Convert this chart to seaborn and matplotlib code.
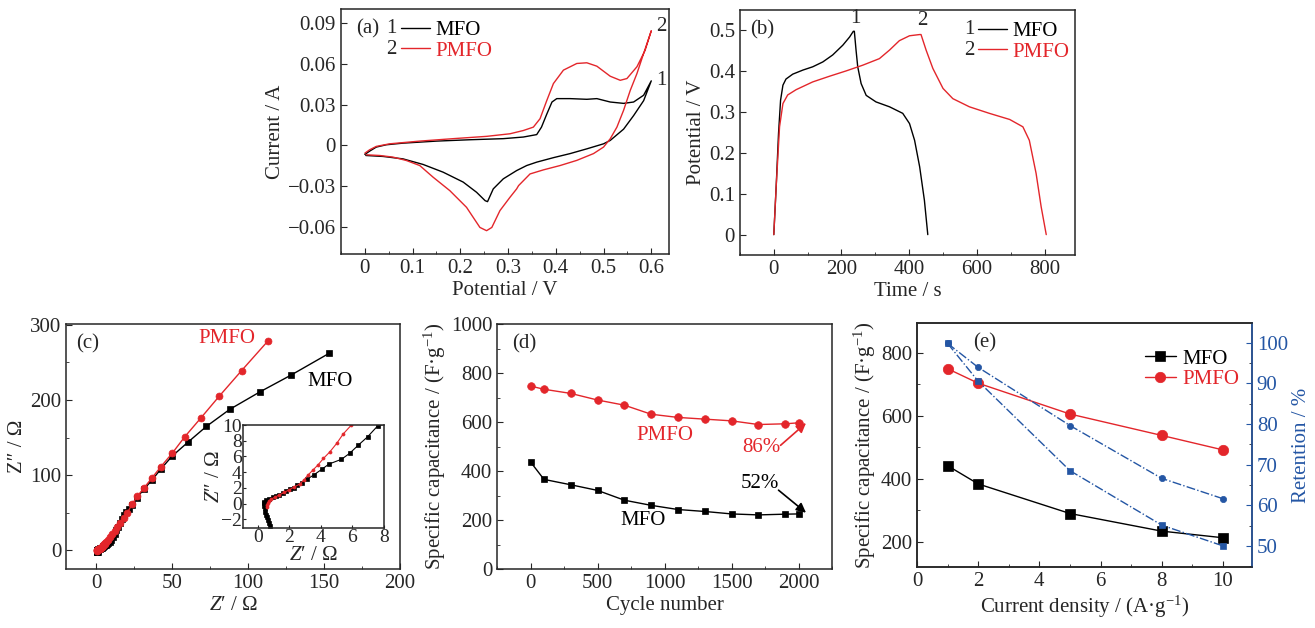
import numpy as np
import pandas as pd
import matplotlib
matplotlib.use("Agg")
import matplotlib.pyplot as plt
from matplotlib.ticker import MultipleLocator
import seaborn as sns

# colores
NEGRO = "#000000"
ROJO = "#e3262b"
AZUL = "#2456a4"

# ---------- (a) voltametria ciclica ----------
cv_mfo_v = [0.0, 0.01, 0.024, 0.045, 0.08, 0.15, 0.22, 0.29, 0.332, 0.36, 0.37, 0.381, 0.392, 0.402,
            0.43, 0.465, 0.486, 0.514, 0.542, 0.563, 0.584, 0.6,
            0.584, 0.563, 0.542, 0.514, 0.5, 0.465, 0.43, 0.395, 0.36, 0.339, 0.318, 0.29, 0.269,
            0.257, 0.252, 0.234, 0.206, 0.164, 0.122, 0.08, 0.038, 0.002]
cv_mfo_i = [-0.0066, -0.0042, -0.0012, 0.0005, 0.0017, 0.0032, 0.0042, 0.005, 0.0062, 0.008, 0.0135,
            0.023, 0.032, 0.0345, 0.0345, 0.034, 0.0345, 0.032, 0.031, 0.032, 0.037, 0.0476,
            0.033, 0.022, 0.012, 0.0037, 0.0012, -0.0025, -0.006, -0.009, -0.0123, -0.0148, -0.0185,
            -0.0246, -0.032, -0.0414, -0.0407, -0.0345, -0.027, -0.0197, -0.014, -0.0099, -0.0081, -0.0074]
cv_pmfo_v = [0.0, 0.01, 0.024, 0.052, 0.115, 0.185, 0.255, 0.304, 0.332, 0.353, 0.367, 0.381, 0.395,
             0.416, 0.444, 0.465, 0.486, 0.514, 0.535, 0.549, 0.57, 0.587, 0.6,
             0.584, 0.57, 0.556, 0.542, 0.528, 0.514, 0.5, 0.479, 0.444, 0.409, 0.374, 0.346, 0.322,
             0.318, 0.304, 0.283, 0.266, 0.255, 0.241, 0.227, 0.213, 0.178, 0.143, 0.115, 0.087,
             0.059, 0.031, 0.003]
cv_pmfo_i = [-0.0057, -0.0032, -0.0007, 0.0012, 0.0032, 0.005, 0.0067, 0.0086, 0.011, 0.0135, 0.0197,
             0.033, 0.0456, 0.0555, 0.0604, 0.0609, 0.0584, 0.051, 0.048, 0.0493, 0.058, 0.07, 0.0845,
             0.0678, 0.053, 0.0406, 0.0259, 0.0135, 0.0049, -0.0012, -0.006, -0.011, -0.0148, -0.018,
             -0.021, -0.0296, -0.032, -0.0382, -0.048, -0.0604, -0.0628, -0.0604, -0.053, -0.0456,
             -0.0333, -0.0234, -0.0148, -0.0111, -0.0086, -0.0074, -0.0069]
a_xticks = [0, 0.1, 0.2, 0.3, 0.4, 0.5, 0.6]
a_xlabels = ["0", "0.1", "0.2", "0.3", "0.4", "0.5", "0.6"]
a_yticks = [-0.06, -0.03, 0, 0.03, 0.06, 0.09]
a_ylabels = ["\u22120.06", "\u22120.03", "0", "0.03", "0.06", "0.09"]

# ---------- (b) carga-descarga ----------
gcd_mfo_t = [0, 7, 14, 20, 27, 36, 56, 86, 115, 145, 174, 204, 224, 235, 238, 243, 248, 258, 273,
             302, 342, 381, 401, 416, 431, 445, 455]
gcd_mfo_v = [0, 0.117, 0.248, 0.329, 0.366, 0.381, 0.393, 0.403, 0.411, 0.423, 0.44, 0.464, 0.484,
             0.498, 0.498, 0.452, 0.411, 0.37, 0.341, 0.325, 0.313, 0.297, 0.272, 0.231, 0.166, 0.084, 0.0]
gcd_pmfo_t = [0, 7, 17, 27, 41, 66, 115, 165, 214, 263, 312, 342, 371, 401, 431, 435, 450, 470, 500,
              529, 578, 637, 697, 736, 755, 775, 790, 805]
gcd_pmfo_v = [0, 0.117, 0.264, 0.321, 0.342, 0.355, 0.374, 0.388, 0.401, 0.415, 0.431, 0.452, 0.475,
              0.487, 0.49, 0.49, 0.452, 0.407, 0.358, 0.333, 0.313, 0.297, 0.282, 0.264, 0.231, 0.15,
              0.068, 0.0]

# ---------- (c) impedancia ----------
eis_mfo_re = [0.77, 0.70, 0.62, 0.57, 0.52, 0.47, 0.42, 0.39, 0.37, 0.40, 0.52, 0.7, 0.94, 1.15, 1.35,
              1.56, 1.8, 2.05, 2.27, 2.49, 2.77, 3.12, 3.53, 4.05, 4.51, 5.3, 5.82, 6.38, 6.96, 7.59,
              8.8, 9.9, 11.0, 12.1, 13.2, 14.3, 15.7, 17.1, 18.5, 19.8, 21.5, 23.3, 26.8, 31.2, 36.5,
              42.4, 49.9, 60.4, 72.5, 87.9, 107.9, 128.1, 153.2]
eis_mfo_im = [-2.9, -2.5, -2.08, -1.7, -1.44, -1.0, -0.6, -0.25, 0.04, 0.25, 0.47, 0.62, 0.8, 0.95,
              1.12, 1.31, 1.55, 1.8, 2.05, 2.33, 2.67, 3.1, 3.64, 4.36, 5.04, 5.64, 6.4, 7.46, 8.5, 9.87,
              10.5, 13, 17.5, 22, 26.5, 31, 36.5, 42, 46.5, 51, 55.5, 60, 70, 81, 93,
              108, 125.3, 144, 164.9, 187.6, 211, 233, 262]
eis_pmfo_re = [0.58, 0.60, 0.62, 0.7, 0.83, 1.05, 1.35, 1.65, 1.97, 2.3, 2.66, 2.91, 3.18, 3.49, 3.8,
               4.16, 4.57, 5.0, 5.41, 5.93, 6.6, 7.5, 8.8, 10.5, 12.1, 13.8, 15.8, 18.0, 20.4, 23.5,
               27.0, 31.4, 36.5, 42.4, 49.9, 58.2, 68.8, 80.9, 95.6, 113.2]
eis_pmfo_im = [-0.47, -0.2, 0.04, 0.3, 0.55, 0.8, 1.1, 1.42, 1.74, 2.12, 2.5, 3.0, 3.64, 4.28, 4.9,
               5.76, 6.6, 7.67, 8.86, 10.0, 11.5, 13.5, 17, 21.5, 26, 31, 36.5, 42.5, 50, 61,
               72, 83, 96, 111, 129, 151, 176, 205, 239, 279]

# ---------- (d) ciclos ----------
ciclos = [0, 100, 300, 500, 700, 900, 1100, 1300, 1500, 1700, 1900, 2000]
ciclo_pmfo = [747, 734, 717, 690, 669, 632, 619, 612, 605, 590, 593, 597]
ciclo_mfo = [437, 366, 344, 321, 281, 260, 243, 235, 225, 221, 224, 225]

# ---------- (e) densidad de corriente ----------
densidad = [1, 2, 5, 8, 10]
cap_mfo = [442, 384, 290, 234, 213]
cap_pmfo = [750, 704, 606, 538, 492]
ret_pmfo = [99.8, 93.9, 79.6, 66.6, 61.6]
ret_mfo = [99.8, 90.5, 68.5, 55.1, 50.0]

# ---------------- estilo ----------------
FS = 15
sns.set_style("ticks")
plt.rcParams["font.family"] = ["Liberation Serif", "DejaVu Serif"]
plt.rcParams["mathtext.fontset"] = "custom"
plt.rcParams["mathtext.rm"] = "Liberation Serif"
plt.rcParams["mathtext.it"] = "Liberation Serif:italic"
plt.rcParams["font.size"] = FS
plt.rcParams["axes.linewidth"] = 1.1
plt.rcParams["xtick.direction"] = "in"
plt.rcParams["ytick.direction"] = "in"
plt.rcParams["xtick.major.size"] = 4
plt.rcParams["ytick.major.size"] = 4
plt.rcParams["xtick.minor.size"] = 2.5
plt.rcParams["ytick.minor.size"] = 2.5
plt.rcParams["xtick.labelsize"] = FS
plt.rcParams["ytick.labelsize"] = FS
plt.rcParams["axes.labelsize"] = FS

fig = plt.figure(figsize=(13.15, 6.28), dpi=100)


def linea(ax, x, y, color, **kw):
    sns.lineplot(x=x, y=y, sort=False, estimator=None, color=color, ax=ax, **kw)


def marcas(ax, x, y, color, marker, ms, lw=1.0, **kw):
    sns.lineplot(x=x, y=y, sort=False, estimator=None, color=color, marker=marker,
                 markersize=ms, markeredgecolor=color, markeredgewidth=0.5, lw=lw, ax=ax, **kw)


# (a)
ax_a = fig.add_axes([0.2593, 0.5955, 0.2494, 0.3901])
linea(ax_a, cv_mfo_v, cv_mfo_i, NEGRO, lw=1.0, label="MFO")
linea(ax_a, cv_pmfo_v, cv_pmfo_i, ROJO, lw=1.0, label="PMFO")
ax_a.set_xlim(-0.05, 0.637)
ax_a.set_ylim(-0.08, 0.1005)
ax_a.set_xticks(a_xticks, a_xlabels)
ax_a.set_yticks(a_yticks, a_ylabels)
ax_a.xaxis.set_minor_locator(MultipleLocator(0.05))
ax_a.set_xlabel("Potential / V", labelpad=2)
ax_a.set_ylabel("Current / A", labelpad=2)
ax_a.legend(loc="upper left", bbox_to_anchor=(0.125, 1.03), frameon=False, handlelength=1.4,
            handletextpad=0.25, labelspacing=0.05, labelcolor="linecolor", fontsize=FS)
ax_a.text(0.045, 0.92, "(a)", transform=ax_a.transAxes, va="center")
ax_a.text(0.168, 0.922, "1", transform=ax_a.transAxes, va="center", ha="right")
ax_a.text(0.168, 0.833, "2", transform=ax_a.transAxes, va="center", ha="right")
ax_a.text(0.61, 0.048, "1", ha="left", va="center")
ax_a.text(0.61, 0.088, "2", ha="left", va="center")

# (b)
ax_b = fig.add_axes([0.5627, 0.5939, 0.2548, 0.3901])
linea(ax_b, gcd_mfo_t, gcd_mfo_v, NEGRO, lw=1.0, label="MFO")
linea(ax_b, gcd_pmfo_t, gcd_pmfo_v, ROJO, lw=1.0, label="PMFO")
ax_b.set_xlim(-100, 890)
ax_b.set_ylim(-0.05, 0.55)
ax_b.set_xticks([0, 200, 400, 600, 800])
ax_b.set_yticks([0, 0.1, 0.2, 0.3, 0.4, 0.5], ["0", "0.1", "0.2", "0.3", "0.4", "0.5"])
ax_b.xaxis.set_minor_locator(MultipleLocator(100))
ax_b.set_xlabel("Time / s", labelpad=2)
ax_b.set_ylabel("Potential / V", labelpad=2)
ax_b.legend(loc="upper left", bbox_to_anchor=(0.655, 1.03), frameon=False, handlelength=1.4,
            handletextpad=0.25, labelspacing=0.05, labelcolor="linecolor", fontsize=FS)
ax_b.text(0.03, 0.92, "(b)", transform=ax_b.transAxes, va="center")
ax_b.text(0.70, 0.922, "1", transform=ax_b.transAxes, va="center", ha="right")
ax_b.text(0.70, 0.833, "2", transform=ax_b.transAxes, va="center", ha="right")
ax_b.text(240, 0.505, "1", ha="center", va="bottom")
ax_b.text(440, 0.5, "2", ha="center", va="bottom")

# (c)
ax_c = fig.add_axes([0.0502, 0.0939, 0.254, 0.390])
marcas(ax_c, eis_mfo_re, eis_mfo_im, NEGRO, "s", 4.5)
marcas(ax_c, eis_pmfo_re, eis_pmfo_im, ROJO, "o", 5)
ax_c.set_xlim(-20, 200)
ax_c.set_ylim(-25, 301)
ax_c.set_xticks([0, 50, 100, 150, 200])
ax_c.set_yticks([0, 100, 200, 300])
ax_c.xaxis.set_minor_locator(MultipleLocator(25))
ax_c.yaxis.set_minor_locator(MultipleLocator(50))
ax_c.set_xlabel("$Z$\u2032 / \u03a9", labelpad=2)
ax_c.set_ylabel("Z\u2033 / \u03a9", labelpad=2)
ax_c.text(0.065, 0.92, "(c)", transform=ax_c.transAxes, va="center", ha="center")
ax_c.text(86, 282, "PMFO", color=ROJO, ha="center", va="center")
ax_c.text(154, 224, "MFO", color=NEGRO, ha="center", va="center")

ax_in = fig.add_axes([0.1848, 0.1592, 0.1072, 0.164])
marcas(ax_in, eis_mfo_re, eis_mfo_im, NEGRO, "s", 2.2, lw=0.8)
marcas(ax_in, eis_pmfo_re, eis_pmfo_im, ROJO, "o", 2.2, lw=0.8)
ax_in.set_xlim(-0.95, 7.8)
ax_in.set_ylim(-3.1, 10)
ax_in.set_xticks([0, 2, 4, 6, 8])
ax_in.set_yticks([-2, 0, 2, 4, 6, 8, 10], ["\u22122", "0", "2", "4", "6", "8", "10"])
ax_in.tick_params(labelsize=14, pad=1, length=2)
ax_in.set_xlabel("$Z$\u2032 / \u03a9", labelpad=0, fontsize=FS)
ax_in.set_ylabel("$Z$\u2033 / \u03a9", labelpad=-2, fontsize=FS)

# (d)
ax_d = fig.add_axes([0.378, 0.0939, 0.2548, 0.390])
marcas(ax_d, ciclos, ciclo_pmfo, ROJO, "o", 5.5)
marcas(ax_d, ciclos, ciclo_mfo, NEGRO, "s", 5)
ax_d.set_xlim(-250, 2250)
ax_d.set_ylim(0, 1000)
ax_d.set_xticks([0, 500, 1000, 1500, 2000])
ax_d.set_yticks([0, 200, 400, 600, 800, 1000])
ax_d.xaxis.set_minor_locator(MultipleLocator(250))
ax_d.yaxis.set_minor_locator(MultipleLocator(100))
ax_d.set_xlabel("Cycle number", labelpad=2)
ax_d.set_ylabel("Specific capacitance / (F\u00b7g$^{-1}$)", labelpad=2)
ax_d.text(0.08, 0.92, "(d)", transform=ax_d.transAxes, va="center", ha="center")
ax_d.text(1005, 544, "PMFO", color=ROJO, ha="center", va="center")
ax_d.text(838, 198, "MFO", color=NEGRO, ha="center", va="center")
ax_d.text(1720, 496, "86%", color=ROJO, ha="center", va="center")
ax_d.text(1710, 350, "52%", color=NEGRO, ha="center", va="center")
ax_d.annotate("", xy=(2055, 596), xytext=(1865, 505),
              arrowprops=dict(arrowstyle="-|>", color=ROJO, lw=1.2, shrinkA=0, shrinkB=0,
                              mutation_scale=14))
ax_d.annotate("", xy=(2055, 230), xytext=(1850, 322),
              arrowprops=dict(arrowstyle="-|>", color=NEGRO, lw=1.2, shrinkA=0, shrinkB=0,
                              mutation_scale=14))

# (e)
ax_e = fig.add_axes([0.6973, 0.0971, 0.2548, 0.3885])
marcas(ax_e, densidad, cap_mfo, NEGRO, "s", 7, label="MFO")
marcas(ax_e, densidad, cap_pmfo, ROJO, "o", 7.5, label="PMFO")
ax_e.set_xlim(0, 10.95)
ax_e.set_ylim(120, 895)
ax_e.set_xticks([0, 2, 4, 6, 8, 10])
ax_e.set_yticks([200, 400, 600, 800])
ax_e.xaxis.set_minor_locator(MultipleLocator(1))
ax_e.yaxis.set_minor_locator(MultipleLocator(100))
ax_e.set_xlabel("Current density / (A\u00b7g$^{-1}$)", labelpad=2)
ax_e.set_ylabel("Specific capacitance / (F\u00b7g$^{-1}$)", labelpad=2)
ax_e.text(0.203, 0.92, "(e)", transform=ax_e.transAxes, va="center", ha="center")
ax_e.legend(loc="upper left", bbox_to_anchor=(0.624, 0.97), frameon=False, handlelength=1.5,
            handletextpad=0.3, labelspacing=0.05, labelcolor="linecolor", fontsize=FS)

ax_r = ax_e.twinx()
marcas(ax_r, densidad, ret_pmfo, AZUL, "o", 4.5, ls="-.")
marcas(ax_r, densidad, ret_mfo, AZUL, "s", 4.5, ls="-.")
ax_r.set_ylim(44.8, 104.8)
ax_r.set_yticks([50, 60, 70, 80, 90, 100])
ax_r.yaxis.set_minor_locator(MultipleLocator(5))
ax_r.set_ylabel("Retention / %", color=AZUL, labelpad=3)
ax_r.tick_params(axis="y", colors=AZUL)
ax_r.spines["right"].set_color(AZUL)

for ax in [ax_a, ax_b, ax_c, ax_in, ax_d, ax_e]:
    ax.tick_params(which="both", top=False, right=False)

fig.savefig("out.png", dpi=100)
